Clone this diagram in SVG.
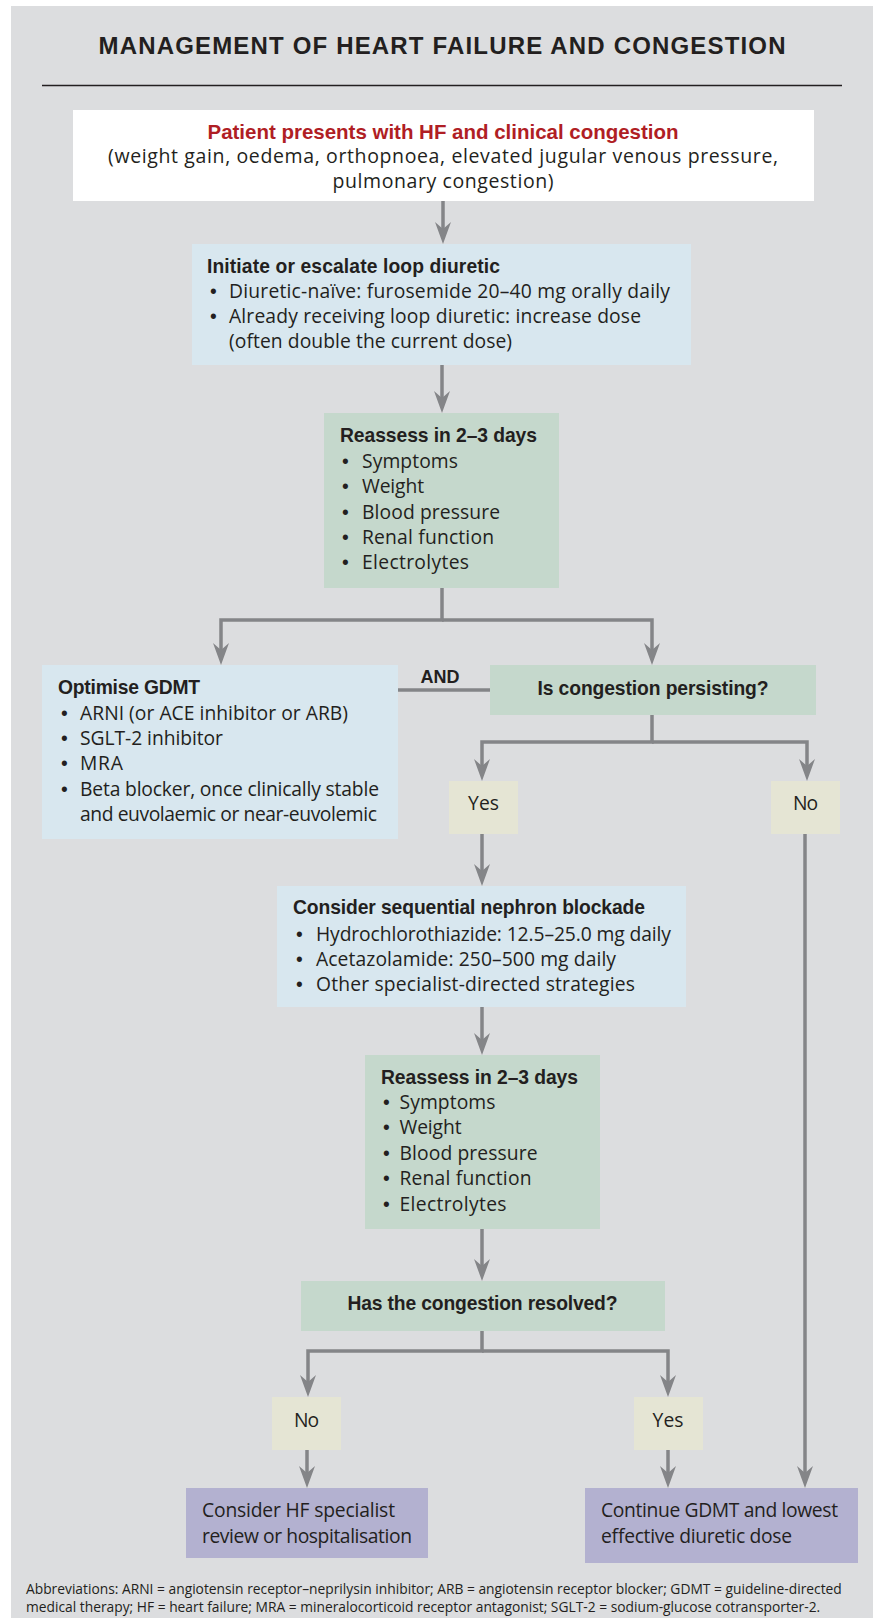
<svg xmlns="http://www.w3.org/2000/svg" width="873" height="1623" viewBox="0 0 873 1623">
<style>
.t{font-family:"Liberation Sans",Arial,sans-serif;font-weight:bold;fill:#231f20;font-size:19.3px}
.r{font-family:"Open Sans","Liberation Sans",sans-serif;fill:#231f20;font-size:19.3px}
.b{font-family:"Liberation Sans",Arial,sans-serif;fill:#231f20;font-size:19.3px}
.f{font-family:"Open Sans","Liberation Sans",sans-serif;fill:#231f20;font-size:13.8px}
.c{text-anchor:middle}
.blue{fill:#d8e7ef}
.green{fill:#c5d8cc}
.beige{fill:#e5e5d4}
.purple{fill:#b3b1d0}
.ln{fill:none;stroke:#848588;stroke-width:3.5;stroke-linejoin:miter}
.ar{marker-end:url(#ah)}
</style>
<defs>
<marker id="ah" markerUnits="userSpaceOnUse" viewBox="0 0 22 16" markerWidth="22" markerHeight="16" refX="10" refY="8" orient="auto">
<path d="M0,0 L22,8 L0,16 L7,8 Z" fill="#848588"/>
</marker>
</defs>
<rect x="11" y="6" width="862" height="1612" fill="#dcdddf"/>
<text x="442" y="54" class="t c" style="font-size:24px" textLength="687">MANAGEMENT OF HEART FAILURE AND CONGESTION</text>
<line x1="42" y1="85.5" x2="842" y2="85.5" stroke="#231f20" stroke-width="1.5"/>

<g id="connectors">
<line class="ln ar" x1="443" y1="201" x2="443" y2="232"/>
<line class="ln ar" x1="442" y1="365" x2="442" y2="401"/>
<path class="ln ar" d="M442,588 L442,620 L221,620 L221,653"/>
<path class="ln ar" d="M442,620 L652,620 L652,653"/>
<line class="ln" x1="398" y1="690" x2="490" y2="690"/>
<path class="ln ar" d="M652,715 L652,742 L482,742 L482,769"/>
<path class="ln ar" d="M652,742 L807,742 L807,769"/>
<line class="ln ar" x1="482" y1="834" x2="482" y2="874"/>
<line class="ln ar" x1="805" y1="834" x2="805" y2="1476"/>
<line class="ln ar" x1="482" y1="1007" x2="482" y2="1043"/>
<line class="ln ar" x1="482" y1="1229" x2="482" y2="1269"/>
<path class="ln ar" d="M482,1331 L482,1351 L308,1351 L308,1385"/>
<path class="ln ar" d="M482,1351 L668,1351 L668,1385"/>
<line class="ln ar" x1="307" y1="1450" x2="307" y2="1476"/>
<line class="ln ar" x1="668" y1="1450" x2="668" y2="1476"/>
<text x="440" y="683" class="t c" style="font-size:18px" textLength="39">AND</text>
</g>

<g id="start">
<rect x="73" y="110" width="741" height="91" fill="#ffffff"/>
<text x="443" y="138.5" class="t c" style="fill:#b01e24;font-size:20.5px" textLength="471">Patient presents with HF and clinical congestion</text>
<text x="443" y="162.5" class="r c" style="font-size:19.5px" textLength="670">(weight gain, oedema, orthopnoea, elevated jugular venous pressure,</text>
<text x="443" y="187.5" class="r c" style="font-size:19.5px" textLength="221">pulmonary congestion)</text>
</g>

<g id="loop-diuretic">
<rect class="blue" x="192" y="244" width="499" height="121"/>
<text x="207" y="273" class="t" textLength="293">Initiate or escalate loop diuretic</text>
<text x="210" y="298" class="b">•</text><text x="229" y="298" class="r" textLength="441">Diuretic-naïve: furosemide 20–40 mg orally daily</text>
<text x="210" y="323" class="b">•</text><text x="229" y="323" class="r" textLength="412">Already receiving loop diuretic: increase dose</text>
<text x="229" y="348" class="r" textLength="283">(often double the current dose)</text>
</g>

<g id="reassess-1">
<rect class="green" x="324" y="413" width="235" height="175"/>
<text x="340" y="442" class="t" textLength="197">Reassess in 2–3 days</text>
<text x="342" y="468" class="b">•</text><text x="362" y="468" class="r" textLength="96">Symptoms</text>
<text x="342" y="493" class="b">•</text><text x="362" y="493" class="r" textLength="62">Weight</text>
<text x="342" y="519" class="b">•</text><text x="362" y="519" class="r" textLength="138">Blood pressure</text>
<text x="342" y="544" class="b">•</text><text x="362" y="544" class="r" textLength="132">Renal function</text>
<text x="342" y="569" class="b">•</text><text x="362" y="569" class="r" textLength="107">Electrolytes</text>
</g>

<g id="optimise-gdmt">
<rect class="blue" x="42" y="665" width="356" height="174"/>
<text x="58" y="694" class="t" textLength="142">Optimise GDMT</text>
<text x="61" y="720" class="b">•</text><text x="80" y="720" class="r" textLength="268">ARNI (or ACE inhibitor or ARB)</text>
<text x="61" y="745" class="b">•</text><text x="80" y="745" class="r" textLength="143">SGLT-2 inhibitor</text>
<text x="61" y="770" class="b">•</text><text x="80" y="770" class="r" textLength="43">MRA</text>
<text x="61" y="795.5" class="b">•</text><text x="80" y="795.5" class="r" textLength="299">Beta blocker, once clinically stable</text>
<text x="80" y="820.5" class="r" textLength="297">and euvolaemic or near-euvolemic</text>
</g>

<g id="persisting">
<rect class="green" x="490" y="665" width="326" height="50"/>
<text x="653" y="694.5" class="t c" textLength="231">Is congestion persisting?</text>
</g>

<g id="yes-1">
<rect class="beige" x="449" y="781" width="69" height="53"/>
<text x="483.5" y="810" class="r c" textLength="31">Yes</text>
</g>

<g id="no-1">
<rect class="beige" x="771" y="781" width="69" height="53"/>
<text x="805.5" y="810" class="r c" textLength="25">No</text>
</g>

<g id="nephron-blockade">
<rect class="blue" x="277" y="886" width="409" height="121"/>
<text x="293" y="914" class="t" textLength="352">Consider sequential nephron blockade</text>
<text x="296" y="940.7" class="b">•</text><text x="316" y="940.7" class="r" textLength="355">Hydrochlorothiazide: 12.5–25.0 mg daily</text>
<text x="296" y="965.7" class="b">•</text><text x="316" y="965.7" class="r" textLength="300">Acetazolamide: 250–500 mg daily</text>
<text x="296" y="990.7" class="b">•</text><text x="316" y="990.7" class="r" textLength="319">Other specialist-directed strategies</text>
</g>

<g id="reassess-2">
<rect class="green" x="365" y="1055" width="235" height="174"/>
<text x="381" y="1084.3" class="t" textLength="197">Reassess in 2–3 days</text>
<text x="383" y="1109.3" class="b">•</text><text x="399.5" y="1109.3" class="r" textLength="96">Symptoms</text>
<text x="383" y="1134.3" class="b">•</text><text x="399.5" y="1134.3" class="r" textLength="62">Weight</text>
<text x="383" y="1160" class="b">•</text><text x="399.5" y="1160" class="r" textLength="138">Blood pressure</text>
<text x="383" y="1185" class="b">•</text><text x="399.5" y="1185" class="r" textLength="132">Renal function</text>
<text x="383" y="1210.7" class="b">•</text><text x="399.5" y="1210.7" class="r" textLength="107">Electrolytes</text>
</g>

<g id="resolved">
<rect class="green" x="301" y="1281" width="364" height="50"/>
<text x="482.5" y="1310" class="t c" textLength="270">Has the congestion resolved?</text>
</g>

<g id="no-2">
<rect class="beige" x="272" y="1397" width="69" height="53"/>
<text x="306.5" y="1426.7" class="r c" textLength="25">No</text>
</g>

<g id="yes-2">
<rect class="beige" x="634" y="1397" width="69" height="53"/>
<text x="668" y="1426.7" class="r c" textLength="31">Yes</text>
</g>

<g id="specialist-review">
<rect class="purple" x="186" y="1488" width="242" height="70"/>
<text x="202" y="1516.7" class="r" textLength="193">Consider HF specialist</text>
<text x="202" y="1542.7" class="r" textLength="210">review or hospitalisation</text>
</g>

<g id="continue-gdmt">
<rect class="purple" x="585" y="1488" width="273" height="75"/>
<text x="601" y="1517.3" class="r" textLength="237">Continue GDMT and lowest</text>
<text x="601" y="1543.3" class="r" textLength="191">effective diuretic dose</text>
</g>

<g id="footnote">
<text x="26" y="1594" class="f">Abbreviations: ARNI = angiotensin receptor–neprilysin inhibitor; ARB = angiotensin receptor blocker; GDMT = guideline-directed</text>
<text x="26" y="1612" class="f">medical therapy; HF = heart failure; MRA = mineralocorticoid receptor antagonist; SGLT-2 = sodium-glucose cotransporter-2.</text>
</g>
</svg>
